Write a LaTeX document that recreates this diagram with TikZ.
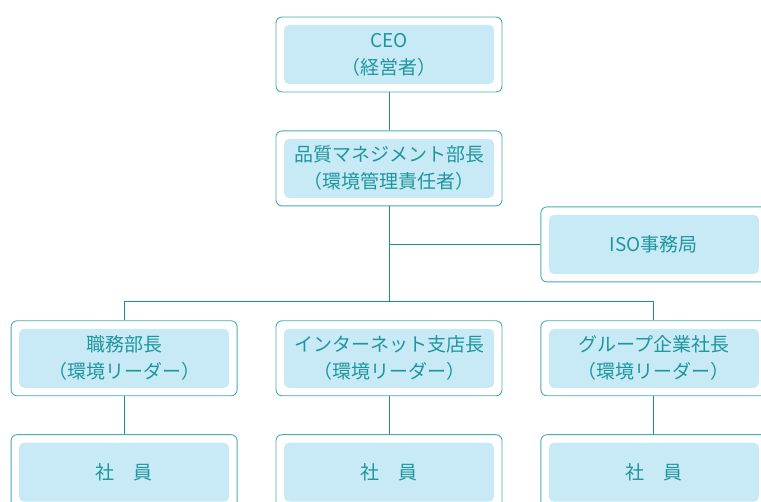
\documentclass[tikz,border=0pt]{standalone}
\usepackage{fontspec}
\setmainfont{Noto Sans CJK JP}
\usetikzlibrary{positioning}
\definecolor{tealtext}{RGB}{30,150,156}
\definecolor{tealframe}{RGB}{72,172,178}
\definecolor{tealline}{RGB}{28,140,146}
\definecolor{palebox}{RGB}{200,234,247}
\tikzset{
  box/.style={draw=tealframe, line width=0.9pt, fill=white, rounded corners=6pt,
    minimum width=226pt, minimum height=75pt, inner sep=0pt, align=center,
    text=tealtext, font=\fontsize{19pt}{27pt}\selectfont,
    path picture={\fill[palebox, rounded corners=5pt]
      ([shift={(8pt,8pt)}]path picture bounding box.south west) rectangle
      ([shift={(-8pt,-8pt)}]path picture bounding box.north east);}},
  link/.style={draw=tealline, line width=0.9pt}
}
\begin{document}
\begin{tikzpicture}[x=1pt, y=-1pt, node distance=38pt]
  \clip (0,0) rectangle (761,502);
  \useasboundingbox (0,0) rectangle (761,502);
  \node[box] (ceo) at (389,54.5) {CEO\\（経営者）};
  \node[box, below=of ceo] (qm) {品質マネジメント部長\\（環境管理責任者）};
  \node[box, right=of qm, yshift=-76pt] (iso) {ISO事務局};
  \node[box, below=114pt of qm] (net) {インターネット支店長\\（環境リーダー）};
  \node[box, left=of net] (dept) {職務部長\\（環境リーダー）};
  \node[box, right=of net] (grp) {グループ企業社長\\（環境リーダー）};
  \foreach \b in {dept, net, grp}
    \node[box, below=of \b] (\b-e) {社　員};
  \coordinate[above=19pt of net] (bus);
  \draw[link] (ceo) -- (qm);
  \draw[link] (qm) -- (bus);
  \draw[link] (iso) -- (iso -| qm);
  \draw[link] (dept) |- (bus) -| (grp);
  \foreach \b in {dept, net, grp}
    \draw[link] (\b) -- (\b-e);
\end{tikzpicture}
\end{document}
